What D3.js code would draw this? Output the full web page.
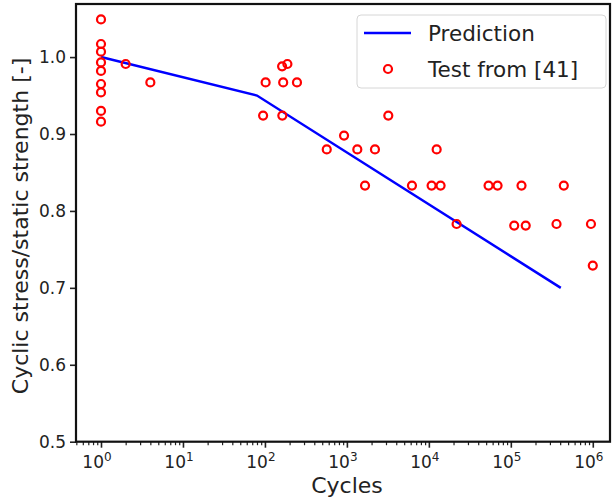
<!DOCTYPE html>
<html lang="en">
<head>
<meta charset="UTF-8">
<title>Cyclic stress vs cycles</title>
<script src="https://d3js.org/d3.v7.min.js"></script>
<style>
  body { margin: 0; background: #fff; }
  text { font-family: "DejaVu Sans", sans-serif; fill: #222; }
</style>
</head>
<body>
<svg width="614" height="503"></svg>
<script>
// prediction curve
const predCycles = [1, 80, 4.07e5];
const predRatio = [1.0, 0.95, 0.70];

// test points from [41]
const testCycles = [1, 1, 1, 1, 1, 1, 1, 1, 1,
  2, 4, 95, 102, 162, 188, 167, 163, 246,
  568, 923, 1340, 2200, 3200, 12450,
  1664, 6220, 10800, 13900, 53500, 68900, 135000, 443000,
  21800, 110000, 152000, 361000, 950000, 1000000];
const testRatio = [1.049, 1.017, 1.007, 0.993, 0.982, 0.965, 0.954, 0.930, 0.916,
  0.991, 0.967, 0.924, 0.967, 0.988, 0.991, 0.967, 0.924, 0.967,
  0.880, 0.898, 0.880, 0.880, 0.924, 0.880,
  0.833, 0.833, 0.833, 0.833, 0.833, 0.833, 0.833, 0.833,
  0.783, 0.781, 0.781, 0.783, 0.783, 0.729];

const yTicks = [0.5, 0.6, 0.7, 0.8, 0.9, 1.0];
const xDecades = [0, 1, 2, 3, 4, 5, 6];

const mLeft = 76, mRight = 610, mTop = 4, mBottom = 441.7;

const x = d3.scaleLog()
  .domain([Math.pow(10, -0.305), Math.pow(10, 6.21)])
  .range([mLeft, mRight]);
const y = d3.scaleLinear()
  .domain([0.5, 1.069])
  .range([mBottom, mTop]);

const svg = d3.select('svg');

// minor ticks for log axis
const minor = [];
for (let e = -1; e <= 6; e++) {
  for (let m = 2; m <= 9; m++) {
    const v = m * Math.pow(10, e);
    if (v > x.domain()[0] && v < x.domain()[1]) minor.push(v);
  }
}

const xAxisMinor = svg.append('g')
  .attr('transform', `translate(0,${mBottom})`)
  .call(d3.axisBottom(x).tickValues(minor).tickSize(3.5).tickFormat(''));
xAxisMinor.select('.domain').remove();
xAxisMinor.selectAll('line').attr('stroke', '#222').attr('stroke-width', 1.2);

const xAxis = svg.append('g')
  .attr('transform', `translate(0,${mBottom})`)
  .call(d3.axisBottom(x).tickValues(xDecades.map(d => Math.pow(10, d))).tickSize(6).tickFormat(''));
xAxis.select('.domain').remove();
xAxis.selectAll('line').attr('stroke', '#222').attr('stroke-width', 1.6);

xDecades.forEach(d => {
  const t = svg.append('text')
    .attr('x', x(Math.pow(10, d)) - 4)
    .attr('y', 468)
    .attr('text-anchor', 'middle')
    .attr('font-size', 17)
    .attr('fill', '#333');
  t.append('tspan').text('10');
  t.append('tspan').attr('dy', -7).attr('font-size', 12).text(d);
});

const yAxis = svg.append('g')
  .attr('transform', `translate(${mLeft},0)`)
  .call(d3.axisLeft(y).tickValues(yTicks).tickSize(6).tickPadding(4).tickFormat(d3.format('.1f')));
yAxis.select('.domain').remove();
yAxis.selectAll('line').attr('stroke', '#222').attr('stroke-width', 1.6);
yAxis.selectAll('text')
  .attr('font-size', 17)
  .attr('fill', '#333')
  .style('font-family', '"DejaVu Sans", sans-serif');

// frame
svg.append('rect')
  .attr('x', mLeft).attr('y', mTop)
  .attr('width', mRight - mLeft).attr('height', mBottom - mTop)
  .attr('fill', 'none').attr('stroke', '#111').attr('stroke-width', 2.2);

// prediction line
const pred = predCycles.map((c, i) => ({ c, r: predRatio[i] }));
svg.append('path')
  .datum(pred)
  .attr('fill', 'none')
  .attr('stroke', '#0000ff')
  .attr('stroke-width', 2.5)
  .attr('d', d3.line().x(d => x(d.c)).y(d => y(d.r)));

// test points
const tests = testCycles.map((c, i) => ({ c, r: testRatio[i] }));
svg.selectAll('circle.test')
  .data(tests)
  .enter()
  .append('circle')
  .attr('class', 'test')
  .attr('cx', d => x(d.c))
  .attr('cy', d => y(d.r))
  .attr('r', 4)
  .attr('fill', 'none')
  .attr('stroke', '#ff0000')
  .attr('stroke-width', 2.2);

// legend
const lg = svg.append('g');
lg.append('rect')
  .attr('x', 357).attr('y', 15).attr('width', 249).attr('height', 73)
  .attr('rx', 4)
  .attr('fill', '#fff').attr('fill-opacity', 0.8)
  .attr('stroke', '#d6d6d6').attr('stroke-width', 1);
lg.append('line')
  .attr('x1', 364).attr('x2', 411).attr('y1', 33).attr('y2', 33)
  .attr('stroke', '#0000ff').attr('stroke-width', 2.5);
lg.append('text')
  .attr('x', 428).attr('y', 41)
  .attr('font-size', 21.5)
  .text('Prediction');
lg.append('circle')
  .attr('cx', 388).attr('cy', 69).attr('r', 4)
  .attr('fill', 'none').attr('stroke', '#ff0000').attr('stroke-width', 2.2);
lg.append('text')
  .attr('x', 428).attr('y', 77)
  .attr('font-size', 21.5)
  .text('Test from [41]');

// axis titles
svg.append('text')
  .attr('x', 347).attr('y', 493)
  .attr('text-anchor', 'middle')
  .attr('font-size', 22)
  .text('Cycles');
svg.append('text')
  .attr('transform', 'translate(28,226) rotate(-90)')
  .attr('text-anchor', 'middle')
  .attr('font-size', 22)
  .text('Cyclic stress/static strength [-]');
</script>
</body>
</html>
